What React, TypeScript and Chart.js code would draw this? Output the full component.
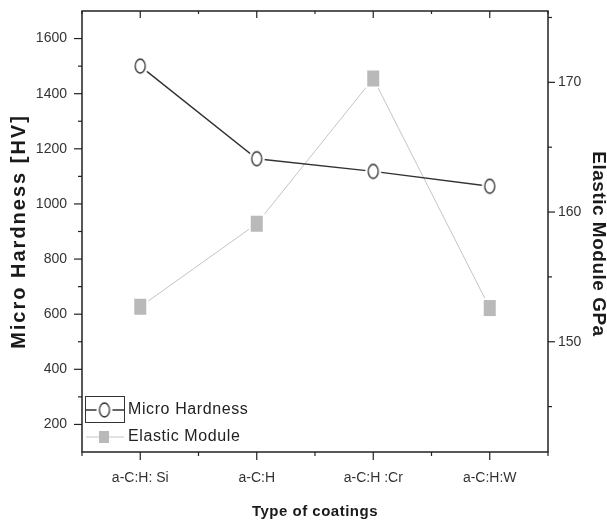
import { useEffect, useRef } from 'react';
import { Chart, registerables } from 'chart.js';

Chart.register(...registerables);

const categories = ['a-C:H: Si', 'a-C:H', 'a-C:H :Cr', 'a-C:H:W'];
const hardness = [1500, 1164, 1118, 1064];
const elastic = [152.7, 159.1, 170.3, 152.6];
const hardnessTicks = [200, 400, 600, 800, 1000, 1200, 1400, 1600];
const hardnessMinorTicks = [300, 500, 700, 900, 1100, 1300, 1500];
const elasticTicks = [150, 160, 170];
const elasticMinorTicks = [145, 155, 165, 175];

const FONT = "'Liberation Sans', Arial, sans-serif";

function makeCircleMarker(): HTMLCanvasElement {
  const c = document.createElement('canvas');
  c.width = 20;
  c.height = 24;
  const g = c.getContext('2d')!;
  g.fillStyle = '#ffffff';
  g.beginPath();
  g.ellipse(10, 12, 8, 10, 0, 0, Math.PI * 2);
  g.fill();
  g.strokeStyle = '#333333';
  g.lineWidth = 1.3;
  g.beginPath();
  g.ellipse(10, 12, 5, 7, 0, 0, Math.PI * 2);
  g.stroke();
  return c;
}

function makeSquareMarker(w: number, h: number, halo: number): HTMLCanvasElement {
  const c = document.createElement('canvas');
  c.width = w + halo * 2;
  c.height = h + halo * 2;
  const g = c.getContext('2d')!;
  if (halo > 0) {
    g.fillStyle = '#ffffff';
    g.fillRect(0, 0, c.width, c.height);
  }
  g.fillStyle = '#b9b9b9';
  g.fillRect(halo, halo, w, h);
  return c;
}

export default function App() {
  const ref = useRef<HTMLCanvasElement | null>(null);

  useEffect(() => {
    document.body.style.margin = '0';
    const canvas = ref.current;
    if (!canvas) return;
    const circle = makeCircleMarker();
    const square = makeSquareMarker(12, 16, 2);
    const legendSquare = makeSquareMarker(10, 12, 0);

    const decor = {
      id: 'decor',
      afterDraw(chart: any) {
        const ctx = chart.ctx as CanvasRenderingContext2D;
        const x = chart.scales.x;
        const y = chart.scales.y;
        const y2 = chart.scales.y2;
        const { left, right, top, bottom } = chart.chartArea;
        ctx.save();
        ctx.strokeStyle = '#222222';
        ctx.lineWidth = 1.5;
        ctx.strokeRect(left, top, right - left, bottom - top);

        ctx.lineWidth = 1.2;
        const line = (x1: number, y1: number, x2: number, y2p: number) => {
          ctx.beginPath();
          ctx.moveTo(x1, y1);
          ctx.lineTo(x2, y2p);
          ctx.stroke();
        };
        hardnessTicks.forEach((v) => {
          const p = y.getPixelForValue(v);
          line(left - 8, p, left, p);
        });
        hardnessMinorTicks.forEach((v) => {
          const p = y.getPixelForValue(v);
          line(left - 4, p, left, p);
        });
        elasticTicks.forEach((v) => {
          const p = y2.getPixelForValue(v);
          line(right, p, right + 7, p);
        });
        elasticMinorTicks.forEach((v) => {
          const p = y2.getPixelForValue(v);
          line(right, p, right + 4, p);
        });
        categories.forEach((_, i) => {
          const p = x.getPixelForValue(i);
          line(p, bottom, p, bottom + 8);
          line(p, top, p, top + 7);
        });
        for (let i = -1; i < categories.length; i++) {
          const p = x.getPixelForValue(i + 0.5);
          line(p, bottom, p, bottom + 4);
          line(p, top, p, top + 3);
        }

        ctx.fillStyle = '#1a1a1a';
        ctx.textAlign = 'center';
        ctx.textBaseline = 'middle';
        (ctx as any).letterSpacing = '2px';
        ctx.font = `bold 20px ${FONT}`;
        ctx.save();
        ctx.translate(19.5, (top + bottom) / 2);
        ctx.rotate(-Math.PI / 2);
        ctx.fillText('Micro Hardness [HV]', 0, 0);
        ctx.restore();

        (ctx as any).letterSpacing = '0.5px';
        ctx.font = `bold 19px ${FONT}`;
        ctx.save();
        ctx.translate(598, 244);
        ctx.rotate(Math.PI / 2);
        ctx.fillText('Elastic Module GPa', 0, 0);
        ctx.restore();

        ctx.font = `bold 15px ${FONT}`;
        ctx.fillText('Type of coatings', (left + right) / 2, 512);

        const ds = chart.data.datasets;
        ctx.strokeStyle = '#333333';
        ctx.lineWidth = 1;
        ctx.strokeRect(85.5, 396.5, 39, 26);
        ctx.lineWidth = 1.3;
        line(86, 410, 124, 410);
        ctx.drawImage(circle, 104.5 - circle.width / 2, 410 - circle.height / 2);
        ctx.strokeStyle = '#c4c4c4';
        ctx.lineWidth = 1;
        line(86, 437, 124, 437);
        ctx.drawImage(legendSquare, 104 - legendSquare.width / 2, 437 - legendSquare.height / 2);
        ctx.fillStyle = '#222222';
        ctx.textAlign = 'left';
        (ctx as any).letterSpacing = '0.6px';
        ctx.font = `16px ${FONT}`;
        ctx.fillText(ds[0].label, 128, 410);
        ctx.fillText(ds[1].label, 128, 437);
        ctx.restore();
      },
    };

    const tickFont = { family: FONT, size: 14 };
    const chart = new Chart(canvas, {
      type: 'line',
      data: {
        labels: categories,
        datasets: [
          {
            label: 'Micro Hardness',
            data: hardness,
            yAxisID: 'y',
            borderColor: '#333333',
            borderWidth: 1.4,
            pointStyle: circle as any,
            pointRadius: 6,
            fill: false,
            tension: 0,
          },
          {
            label: 'Elastic Module',
            data: elastic,
            yAxisID: 'y2',
            borderColor: '#c4c4c4',
            borderWidth: 1,
            pointStyle: square as any,
            pointRadius: 6,
            fill: false,
            tension: 0,
          },
        ],
      },
      options: {
        animation: false,
        responsive: false,
        devicePixelRatio: 1,
        layout: { padding: { top: 11, left: 0, right: 0, bottom: 0 } },
        plugins: { legend: { display: false }, tooltip: { enabled: false } },
        scales: {
          x: {
            type: 'category',
            offset: true,
            grid: { display: false, drawTicks: false },
            border: { display: false },
            ticks: { font: tickFont, color: '#333333', padding: 18, maxRotation: 0, autoSkip: false },
            afterFit: (s: any) => {
              s.height = 70;
              s.paddingLeft = 0;
              s.paddingRight = 0;
            },
          },
          y: {
            type: 'linear',
            position: 'left',
            min: 100,
            max: 1700,
            grid: { display: false, drawTicks: false },
            border: { display: false },
            afterBuildTicks: (s: any) => {
              s.ticks = hardnessTicks.map((v) => ({ value: v }));
            },
            ticks: { font: tickFont, color: '#333333', padding: 15, callback: (v: any) => String(v) },
            afterFit: (s: any) => {
              s.width = 82;
              s.paddingTop = 0;
              s.paddingBottom = 0;
            },
          },
          y2: {
            type: 'linear',
            position: 'right',
            min: 141.5,
            max: 175.5,
            grid: { display: false, drawTicks: false },
            border: { display: false },
            afterBuildTicks: (s: any) => {
              s.ticks = elasticTicks.map((v) => ({ value: v }));
            },
            ticks: { font: tickFont, color: '#333333', padding: 10, callback: (v: any) => String(v) },
            afterFit: (s: any) => {
              s.width = 59;
              s.paddingTop = 0;
              s.paddingBottom = 0;
            },
          },
        },
      },
      plugins: [decor],
    });
    return () => chart.destroy();
  }, []);

  return (
    <div style={{ width: 607, height: 522 }}>
      <canvas ref={ref} width={607} height={522} style={{ display: 'block' }} />
    </div>
  );
}
